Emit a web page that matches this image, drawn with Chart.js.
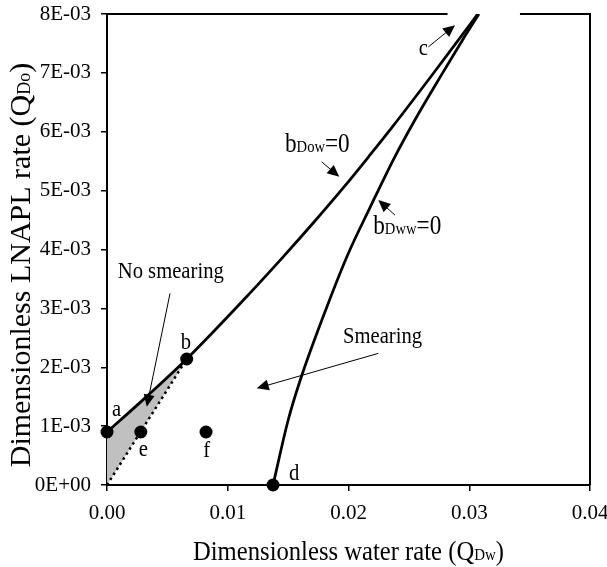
<!DOCTYPE html>
<html><head><meta charset="utf-8">
<script src="https://cdn.jsdelivr.net/npm/chart.js@4.4.1/dist/chart.umd.min.js"></script>
<style>html,body{margin:0;padding:0;background:#fff;}canvas{display:block;}</style>
</head><body>
<canvas id="c" width="607" height="567"></canvas>
<script>
// ---- data ----
const bDowX = [0, 0.0030, 0.0066, 0.0118, 0.0147, 0.0172, 0.0197, 0.0218, 0.0237, 0.0268, 0.0290, 0.0307];
const bDowY = [0.00090, 0.00145, 0.00214, 0.00325, 0.00390, 0.00448, 0.00508, 0.00561, 0.00610, 0.00693, 0.00753, 0.00800];
const bDwwX = [0.01375, 0.0150, 0.0160, 0.0182, 0.0200, 0.0218, 0.0237, 0.0255, 0.0278, 0.02945, 0.0308];
const bDwwY = [0, 0.00110, 0.00178, 0.00302, 0.00394, 0.00472, 0.00552, 0.00620, 0.00700, 0.00756, 0.00800];
const pointNames = ['a', 'b', 'd', 'e', 'f'];
const pointX = [0, 0.0066, 0.01375, 0.0028, 0.0082];
const pointY = [0.00090, 0.00214, 0, 0.00090, 0.00090];
const shadeX = [0, 0.0066];
const shadeY = [0.00090, 0.00214];
const dottedX = [0, 0.0066];
const dottedY = [0, 0.00214];
const xTickLabels = ['0.00', '0.01', '0.02', '0.03', '0.04'];
const yTickLabels = ['0E+00', '1E-03', '2E-03', '3E-03', '4E-03', '5E-03', '6E-03', '7E-03', '8E-03'];
const xTitleParts = ['Dimensionless water rate (Q', 'Dw', ')'];
const yTitleParts = ['Dimensionless LNAPL rate (Q', 'Do', ')'];

// ---- annotation placement (data coordinates) ----
const letterLabels = [
  {t: 'a', x: 0.0008, y: 0.00117},
  {t: 'b', x: 0.00654, y: 0.00231},
  {t: 'e', x: 0.0030, y: 0.00049},
  {t: 'f', x: 0.00826, y: 0.00048},
  {t: 'd', x: 0.01549, y: 0.000085},
  {t: 'c', x: 0.02619, y: 0.00731},
  {t: 'No smearing', x: 0.00528, y: 0.00351},
  {t: 'Smearing', x: 0.02282, y: 0.00242}
];
const richLabels = [
  {parts: ['b', 'Dow', '=0'], x: 0.01474, y: 0.00566},
  {parts: ['b', 'Dww', '=0'], x: 0.02205, y: 0.00426}
];
const arrows = [
  {x0: 0.00522, y0: 0.003255, x1: 0.00329, y1: 0.00133},
  {x0: 0.02247, y0: 0.002236, x1: 0.0124, y1: 0.001642},
  {x0: 0.01778, y0: 0.005489, x1: 0.01924, y1: 0.005234},
  {x0: 0.02385, y0: 0.004584, x1: 0.02247, y1: 0.004839},
  {x0: 0.02661, y0: 0.007441, x1: 0.02882, y1: 0.00781}
];
const topGap = [0.0282, 0.0342];

const pts = (xs, ys) => xs.map((x, i) => ({x, y: ys[i]}));
const FONT = '"Liberation Serif", "Times New Roman", serif';
const SX = 0.86;

function drawRich(ctx, parts, sizes, x, y, align, rot, sx) {
  ctx.save();
  ctx.translate(x, y);
  if (rot) ctx.rotate(rot);
  ctx.scale(sx, 1);
  ctx.textBaseline = 'alphabetic';
  ctx.textAlign = 'left';
  ctx.fillStyle = '#000';
  let w = 0;
  parts.forEach((p, i) => { ctx.font = sizes[i] + 'px ' + FONT; w += ctx.measureText(p).width; });
  let cx = align === 'center' ? -w / 2 : (align === 'right' ? -w : 0);
  parts.forEach((p, i) => { ctx.font = sizes[i] + 'px ' + FONT; ctx.fillText(p, cx, 0); cx += ctx.measureText(p).width; });
  ctx.restore();
}

const annoPlugin = {
  id: 'anno',
  afterDraw(chart) {
    const {ctx, chartArea: ca, scales: {x, y}} = chart;
    ctx.save();
    ctx.strokeStyle = '#000';
    ctx.lineWidth = 2;
    ctx.beginPath();
    ctx.moveTo(ca.left, ca.top); ctx.lineTo(x.getPixelForValue(topGap[0]), ca.top);
    ctx.moveTo(x.getPixelForValue(topGap[1]), ca.top); ctx.lineTo(ca.right, ca.top);
    ctx.moveTo(ca.right, ca.top - 1); ctx.lineTo(ca.right, ca.bottom);
    ctx.stroke();
    ctx.lineWidth = 1;
    ctx.fillStyle = '#000';
    arrows.forEach(a => {
      const X0 = x.getPixelForValue(a.x0), Y0 = y.getPixelForValue(a.y0);
      const X1 = x.getPixelForValue(a.x1), Y1 = y.getPixelForValue(a.y1);
      const ang = Math.atan2(Y1 - Y0, X1 - X0);
      const L = 12, W = 5.5;
      ctx.beginPath();
      ctx.moveTo(X0, Y0);
      ctx.lineTo(X1 - Math.cos(ang) * L * 0.8, Y1 - Math.sin(ang) * L * 0.8);
      ctx.stroke();
      ctx.beginPath();
      ctx.moveTo(X1, Y1);
      ctx.lineTo(X1 - Math.cos(ang) * L - Math.sin(ang) * W, Y1 - Math.sin(ang) * L + Math.cos(ang) * W);
      ctx.lineTo(X1 - Math.cos(ang) * L + Math.sin(ang) * W, Y1 - Math.sin(ang) * L - Math.cos(ang) * W);
      ctx.closePath();
      ctx.fill();
    });
    ctx.restore();
    letterLabels.forEach(l => {
      drawRich(ctx, [l.t], [24], x.getPixelForValue(l.x), y.getPixelForValue(l.y), 'center', 0, SX);
    });
    richLabels.forEach(l => {
      drawRich(ctx, l.parts, [27, 17, 27], x.getPixelForValue(l.x), y.getPixelForValue(l.y), 'left', 0, SX);
    });
    drawRich(ctx, xTitleParts, [28, 17, 28], (ca.left + ca.right) / 2, ca.bottom + 75, 'center', 0, 0.88);
    drawRich(ctx, yTitleParts, [30, 18, 30], 30, ca.top + 251, 'center', -Math.PI / 2, 1);
  }
};

new Chart(document.getElementById('c'), {
  type: 'line',
  data: {
    datasets: [
      {data: pts(shadeX, shadeY), borderWidth: 0, pointRadius: 0, backgroundColor: '#c0c0c0', fill: '+1', order: 4},
      {data: pts(dottedX, dottedY), borderColor: '#000', borderWidth: 2.5, borderDash: [2.5, 3.5], pointRadius: 0, fill: false, order: 3},
      {data: pts(bDowX, bDowY), borderColor: '#000', borderWidth: 2.75, pointRadius: 0, fill: false, cubicInterpolationMode: 'monotone', order: 2},
      {data: pts(bDwwX, bDwwY), borderColor: '#000', borderWidth: 2.75, pointRadius: 0, fill: false, cubicInterpolationMode: 'monotone', order: 2},
      {label: 'points', data: pts(pointX, pointY), showLine: false, pointRadius: 6.5, pointBackgroundColor: '#000', pointBorderColor: '#000', pointBorderWidth: 0, clip: false, order: 1}
    ]
  },
  options: {
    responsive: false,
    animation: false,
    devicePixelRatio: 1,
    layout: {padding: {left: 0, top: 14, right: 17, bottom: 0}},
    plugins: {legend: {display: false}, tooltip: {enabled: false}},
    scales: {
      x: {
        type: 'linear', min: 0, max: 0.04,
        grid: {drawOnChartArea: false, drawTicks: true, tickLength: 6, color: '#000', lineWidth: 1.5},
        border: {display: true, color: '#000', width: 2},
        ticks: {stepSize: 0.01, color: '#000', padding: 10, font: {family: FONT, size: 21},
          callback: (v, i) => xTickLabels[i]},
        afterFit: s => { s.height = 82; s.paddingLeft = 0; s.paddingRight = 0; }
      },
      y: {
        type: 'linear', min: 0, max: 0.008,
        grid: {drawOnChartArea: false, drawTicks: true, tickLength: 6, color: '#000', lineWidth: 1.5},
        border: {display: true, color: '#000', width: 2},
        ticks: {stepSize: 0.001, color: '#000', padding: 10, font: {family: FONT, size: 21},
          callback: (v, i) => yTickLabels[i]},
        afterFit: s => { s.width = 107; s.paddingTop = 0; s.paddingBottom = 0; }
      }
    }
  },
  plugins: [annoPlugin]
});
</script>
</body></html>
